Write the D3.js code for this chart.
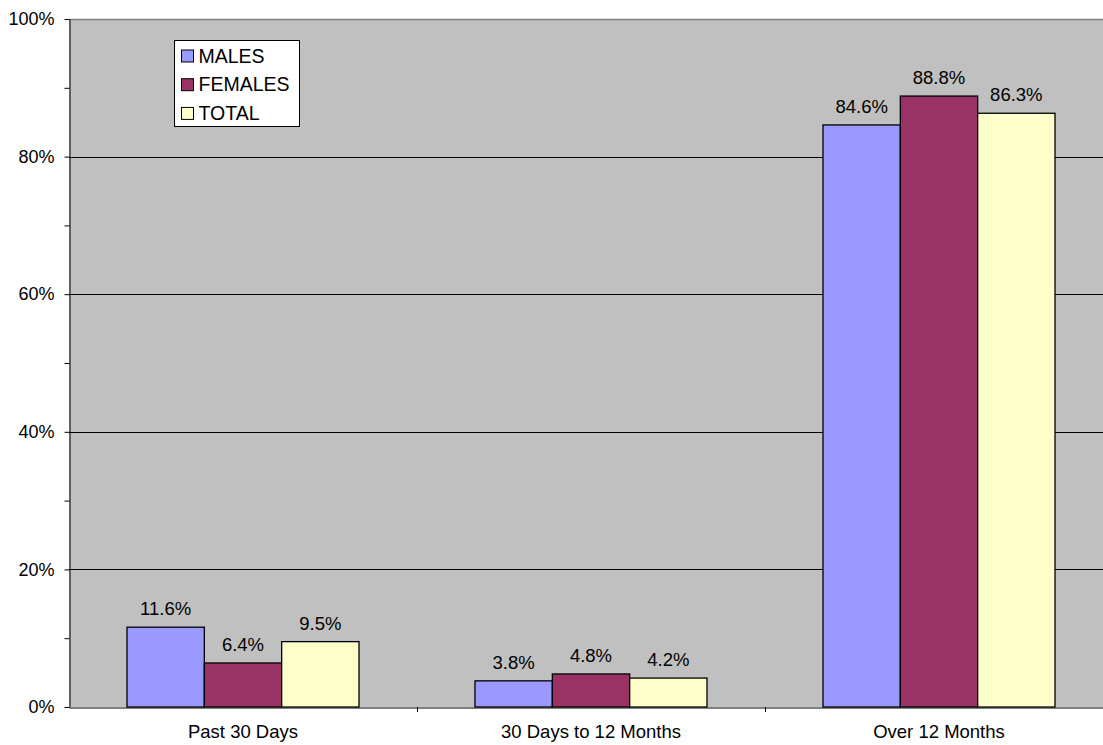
<!DOCTYPE html>
<html>
<head>
<meta charset="utf-8">
<script src="https://cdn.jsdelivr.net/npm/d3@7"></script>
<style>
  body { margin: 0; background: #fff; }
  text { font-family: Arial, "Liberation Sans", sans-serif; fill: #000; }
</style>
</head>
<body>
<div id="chart"></div>
<script>
// data
const categories = ['Past 30 Days', '30 Days to 12 Months', 'Over 12 Months'];
const seriesNames = ['MALES', 'FEMALES', 'TOTAL'];
const males = [11.6, 3.8, 84.6];
const females = [6.4, 4.8, 88.8];
const total = [9.5, 4.2, 86.3];
const yTicks = [0, 20, 40, 60, 80, 100];
const yMinorTicks = [0, 10, 20, 30, 40, 50, 60, 70, 80, 90, 100];

const COLORS = ['#9999FF', '#993366', '#FFFFCC'];
const W = 1103, H = 745;
const plotLeft = 69, plotTop = 19, plotBottom = 707;
const plotRight = 69 + 3 * 348; // plot runs past the window edge
const FONT = 'Arial, "Liberation Sans", sans-serif';

let svg = d3.select('#chart').append('svg')
  .attr('width', W)
  .attr('height', H);

let x = d3.scaleBand()
  .domain(categories)
  .range([plotLeft, plotRight]);

// excel gap width 150% -> 0.75 bar widths on each side
let xInner = d3.scaleBand()
  .domain(seriesNames)
  .range([0, x.bandwidth()])
  .paddingInner(0)
  .paddingOuter(0.75);

let y = d3.scaleLinear()
  .domain([0, 100])
  .range([plotBottom, plotTop]);

// plot background
svg.append('rect')
  .attr('x', plotLeft)
  .attr('y', plotTop)
  .attr('width', plotRight - plotLeft)
  .attr('height', plotBottom - plotTop)
  .attr('fill', '#C0C0C0');

// gridlines
svg.selectAll('.grid')
  .data(yTicks.filter(d => d > 0 && d < 100))
  .enter().append('line')
  .attr('x1', plotLeft)
  .attr('x2', plotRight)
  .attr('y1', d => Math.round(y(d)) + 0.5)
  .attr('y2', d => Math.round(y(d)) + 0.5)
  .attr('stroke', '#000');

// top border
svg.append('line')
  .attr('x1', plotLeft).attr('x2', plotRight)
  .attr('y1', plotTop + 0.5).attr('y2', plotTop + 0.5)
  .attr('stroke', '#808080')
  .attr('stroke-width', 1.5);

// bars
let seriesData = [males, females, total];
seriesData.forEach(function (vals, s) {
  let g = svg.append('g');
  g.selectAll('rect')
    .data(vals)
    .enter().append('rect')
    .attr('x', (d, i) => x(categories[i]) + xInner(seriesNames[s]))
    .attr('y', d => y(d))
    .attr('width', xInner.bandwidth())
    .attr('height', d => plotBottom - y(d))
    .attr('fill', COLORS[s])
    .attr('stroke', '#000')
    .attr('stroke-width', 1.3);

  g.selectAll('text')
    .data(vals)
    .enter().append('text')
    .attr('x', (d, i) => x(categories[i]) + xInner(seriesNames[s]) + xInner.bandwidth() / 2)
    .attr('y', d => y(d) - 12)
    .attr('text-anchor', 'middle')
    .style('font-size', '18.5px')
    .text(d => d.toFixed(1) + '%');
});

// y axis
let yAxis = d3.axisLeft(y)
  .tickValues(yMinorTicks)
  .tickSize(5)
  .tickSizeOuter(0)
  .tickFormat(d => yTicks.includes(d) ? d + '%' : '');
let ya = svg.append('g')
  .attr('transform', 'translate(' + (plotLeft + 0.5) + ',0)')
  .call(yAxis);
ya.select('.domain').attr('stroke', '#000');
ya.selectAll('.tick line').attr('stroke', '#000');
ya.selectAll('.tick text')
  .attr('x', -15)
  .style('font-size', '18px')
  .style('font-family', FONT);

// x axis
let xa = svg.append('g')
  .attr('transform', 'translate(0,' + (plotBottom + 0.5) + ')')
  .call(d3.axisBottom(x).tickSize(0).tickSizeOuter(0));
xa.select('.domain').attr('stroke', '#000');
xa.selectAll('.tick text')
  .attr('y', 30)
  .attr('dy', null)
  .style('font-size', '18.5px')
  .style('font-family', FONT);

// category separators on the x axis
svg.selectAll('.xsep')
  .data(categories.slice(1))
  .enter().append('line')
  .attr('x1', d => Math.round(x(d)) + 0.5)
  .attr('x2', d => Math.round(x(d)) + 0.5)
  .attr('y1', plotBottom)
  .attr('y2', plotBottom + 5)
  .attr('stroke', '#000');

// legend
let legend = svg.append('g').attr('transform', 'translate(174.5,40.5)');
legend.append('rect')
  .attr('width', 125)
  .attr('height', 86)
  .attr('fill', '#fff')
  .attr('stroke', '#000');
seriesNames.forEach(function (name, i) {
  let row = legend.append('g').attr('transform', 'translate(7,' + (9.5 + i * 28.7) + ')');
  row.append('rect')
    .attr('width', 12)
    .attr('height', 12)
    .attr('fill', COLORS[i])
    .attr('stroke', '#000');
  row.append('text')
    .attr('x', 17)
    .attr('y', 12.5)
    .style('font-size', '19.5px')
    .text(name);
});
</script>
</body>
</html>
